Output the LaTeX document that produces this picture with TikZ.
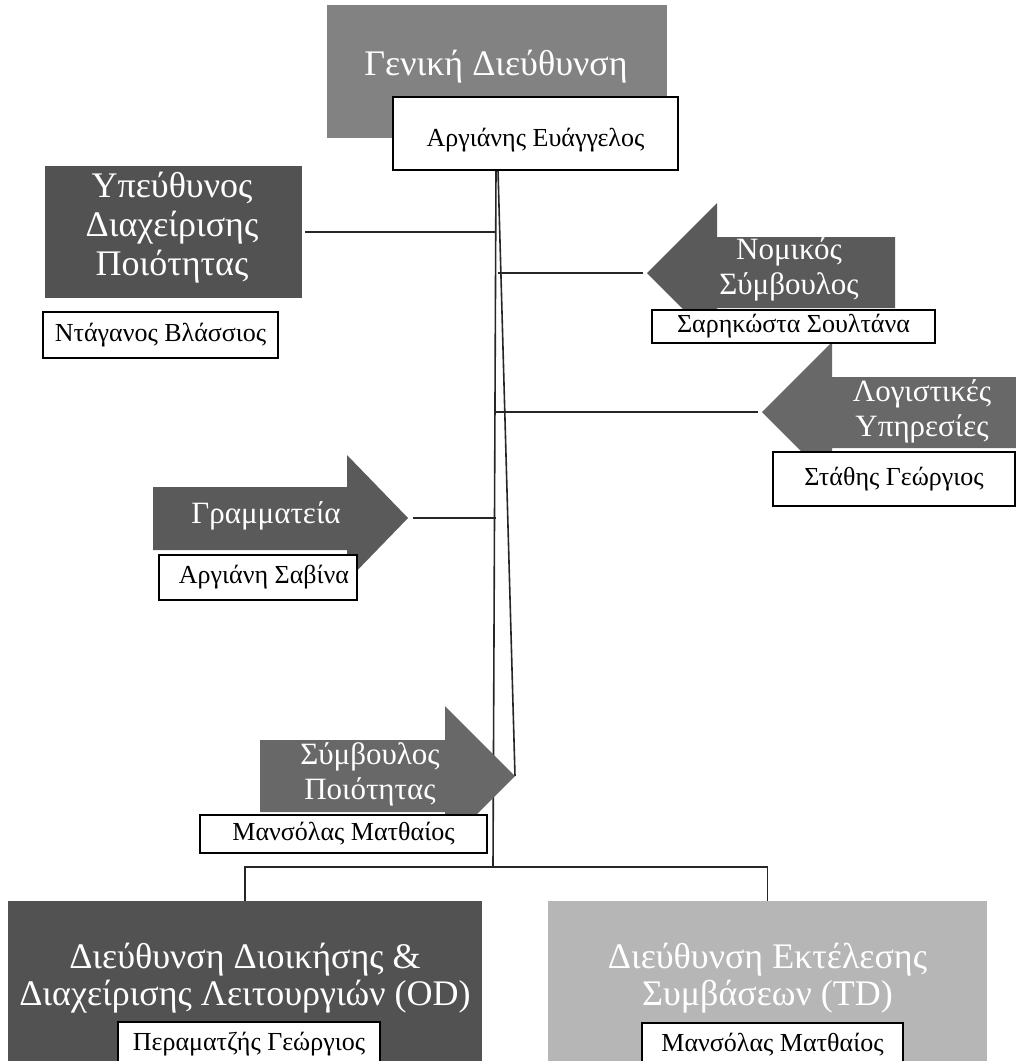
\documentclass[tikz,border=0pt]{standalone}
\usepackage{fontspec}
\setmainfont{Liberation Serif}

\definecolor{headgray}{HTML}{828282}
\definecolor{darkunit}{HTML}{525252}
\definecolor{arrowdark}{HTML}{5A5A5A}
\definecolor{arrowmid}{HTML}{686868}
\definecolor{lightunit}{HTML}{B6B6B6}
\definecolor{linkgray}{HTML}{262626}

\begin{document}
\begin{tikzpicture}[x=1pt, y=-1pt,
  link/.style={draw=linkgray, line width=1.6pt},
  unit/.style={inner sep=0pt, outer sep=0pt},
  namebox/.style={draw=black, line width=1.2pt, fill=white, inner sep=0pt,
    font=\fontsize{26}{30}\selectfont},
  bigtitle/.style={text=white, align=center, inner sep=0pt,
    font=\fontsize{36}{37}\selectfont},
  arrowtitle/.style={text=white, align=center, inner sep=0pt,
    font=\fontsize{31}{35}\selectfont}]
\useasboundingbox (0,0) rectangle (1016,1061);

% trunk and the links to it
\coordinate (TR1) at (496, 170);
\coordinate (TR2) at (493, 867);
\coordinate (SL1) at (498, 170);
\coordinate (LEtip) at (647, 273);
\coordinate (ACtip) at (762, 412);
\coordinate (SEtip) at (408, 518);
\coordinate (QAtip) at (515, 776);

\node[unit, fill=darkunit, minimum width=257pt, minimum height=132pt] (QM) at (173.5, 232) {};
\node[unit, fill=darkunit, minimum width=474pt, minimum height=170pt] (OD) at (245, 986) {};
\node[unit, fill=lightunit, minimum width=439pt, minimum height=170pt] (TD) at (767.5, 986) {};

\draw [link] (TR1) -- (TR2) ;
\draw [link] (SL1) -- (QAtip) ;
\draw [link, shorten <=3pt] (QM.east) -- (QM.east -| TR1) ;
\draw [link, shorten <=4pt] (LEtip) -- (LEtip -| SL1) ;
\draw [link, shorten <=4pt] (ACtip) -- (ACtip -| TR1) ;
\draw [link, shorten <=5pt] (SEtip) -- (SEtip -| TR1) ;
\draw [link] (OD.north) |- (TR2) -| (TD.north) ;

% units
\node[unit, fill=headgray, minimum width=340pt, minimum height=133pt] (GD) at (497, 71.5) {};
\fill[arrowdark] (LEtip) -- (717, 203) -- (717, 237) -- (895, 237) -- (895, 308) -- (717, 308) -- (717, 343) -- cycle;
\fill[arrowmid] (ACtip) -- (832, 342) -- (832, 377) -- (1020, 377) -- (1020, 448) -- (832, 448) -- (832, 482) -- cycle;
\fill[arrowdark] (SEtip) -- (347, 455) -- (347, 487) -- (153, 487) -- (153, 550) -- (347, 550) -- (347, 581) -- cycle;
\fill[arrowmid] (QAtip) -- (445, 706) -- (445, 740) -- (260, 740) -- (260, 812) -- (445, 812) -- (445, 846) -- cycle;

\node[bigtitle] (GDtext) at (496, 67) {Γενική Διεύθυνση};
\node[bigtitle, font=\fontsize{36}{39}\selectfont] (QMtext) at (172, 228) {Υπεύθυνος\\Διαχείρισης\\Ποιότητας};
\node[arrowtitle] (LEtext) at (789, 269) {Νομικός\\Σύμβουλος};
\node[arrowtitle] (ACtext) at (922, 411) {Λογιστικές\\Υπηρεσίες};
\node[arrowtitle] (SEtext) at (266, 516) {Γραμματεία};
\node[arrowtitle] (QAtext) at (370, 774) {Σύμβουλος\\Ποιότητας};
\node[bigtitle] (ODtext) at (245, 978) {Διεύθυνση Διοικήσης \&\\Διαχείρισης Λειτουργιών (OD)};
\node[bigtitle] (TDtext) at (767.5, 978) {Διεύθυνση Εκτέλεσης\\Συμβάσεων (TD)};

% names
\node[namebox, minimum width=285pt, minimum height=73pt, text height=31pt, text depth=6pt] (GDname) at (535.5, 133.5) {Αργιάνης Ευάγγελος};
\node[namebox, minimum width=235pt, minimum height=46pt] (QMname) at (160.5, 335) {Ντάγανος Βλάσσιος};
\node[namebox, minimum width=283pt, minimum height=33pt] (LEname) at (793.5, 326.5) {Σαρηκώστα Σουλτάνα};
\node[namebox, minimum width=242pt, minimum height=54pt] (ACname) at (894, 479) {Στάθης Γεώργιος};
\node[namebox, minimum width=198pt, minimum height=45pt] (SEname) at (258, 577.5) {\hspace{12pt}Αργιάνη Σαβίνα};
\node[namebox, minimum width=287pt, minimum height=38pt] (QAname) at (343.5, 834) {Μανσόλας Ματθαίος};
\node[namebox, minimum width=262pt, minimum height=44pt] (ODname) at (249, 1044) {Περαματζής Γεώργιος};
\node[namebox, minimum width=261pt, minimum height=44pt] (TDname) at (772.5, 1045) {Μανσόλας Ματθαίος};
\end{tikzpicture}
\end{document}
